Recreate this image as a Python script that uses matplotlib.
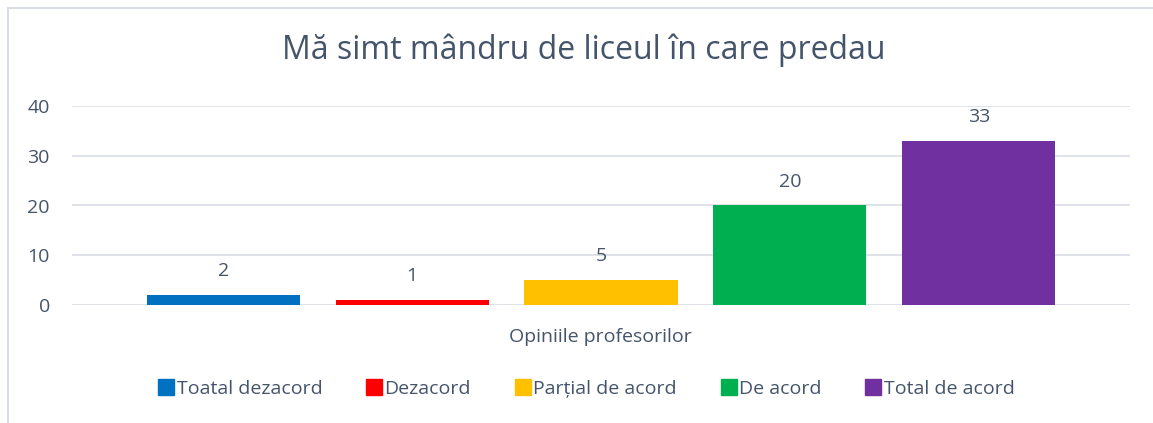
import matplotlib.pyplot as plt
from matplotlib.patches import Rectangle
from matplotlib.lines import Line2D

title = "Mă simt mândru de liceul în care predau"
categories = ["Toatal dezacord", "Dezacord", "Parțial de acord", "De acord", "Total de acord"]
values = [2, 1, 5, 20, 33]
colors = ["#0070C0", "#FF0000", "#FFC000", "#00B050", "#7030A0"]
yticks = [0, 10, 20, 30, 40]
xlabel = "Opiniile profesorilor"

txt = "#44546A"
plt.rcParams['font.family'] = ['Open Sans', 'DejaVu Sans']

fig = plt.figure(figsize=(11.53, 4.23), dpi=100)
ax = fig.add_axes([72/1153, 1 - 305/423, (1130-72)/1153, (305-106)/423])

x = list(range(len(values)))
ax.bar(x, values, width=0.81, color=colors, zorder=3)
for xi, v in zip(x, values):
    ax.text(xi, v + 3.0, str(v), ha='center', va='bottom', fontsize=14, color=txt)

ax.set_xlim(-0.80, 4.80)
ax.set_ylim(0, 40)
ax.set_yticks(yticks)
ax.set_xticks([])
ax.grid(axis='y', color='#D9DEE5', linewidth=1.2, zorder=0)
for s in ax.spines.values():
    s.set_visible(False)
ax.tick_params(axis='y', length=0, labelsize=14, labelcolor=txt, pad=16)

fig.text(584/1153, 1 - 50/423, title, ha='center', va='center', fontsize=23, color=txt)
fig.text(600/1153, 1 - 337/423, xlabel, ha='center', va='center', fontsize=14, color=txt)

handles = [Line2D([], [], marker='s', linestyle='none', markersize=11,
                  markerfacecolor=c, markeredgecolor=c) for c in colors]
fig.legend(handles, categories, loc='center', bbox_to_anchor=(586/1153, 1 - 389/423),
           ncol=5, frameon=False, fontsize=14, labelcolor=txt, handletextpad=0.1,
           columnspacing=2.2, handlelength=0.9)

fig.patches.append(Rectangle((8/1153, -0.1), 1.2, 1 - 8/423 + 0.1, transform=fig.transFigure,
                             fill=False, edgecolor='#D9DEE5', linewidth=1.5))

fig.savefig("out.png", dpi=100)
